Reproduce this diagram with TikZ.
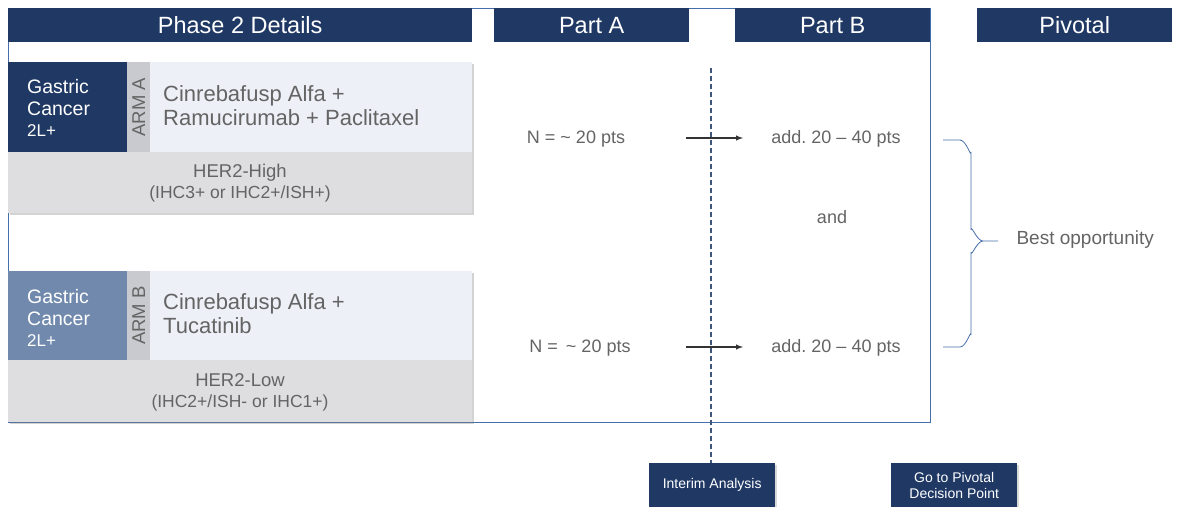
\documentclass[tikz,border=0pt]{standalone}
\usepackage{fontspec}
\setmainfont{Liberation Sans}
\usepackage{xcolor}
\usepackage{tikz}
\usetikzlibrary{arrows,shadows}
\frenchspacing

\definecolor{navy}{RGB}{31,56,100}
\definecolor{steel}{RGB}{112,137,173}
\definecolor{armgray}{RGB}{200,202,207}
\definecolor{lightbox}{RGB}{237,240,247}
\definecolor{subgray}{RGB}{222,222,225}
\definecolor{txtgray}{RGB}{100,100,100}
\definecolor{frameblue}{RGB}{70,110,170}

\begin{document}
\begin{tikzpicture}[x=1pt, y=-1pt,
                    hdr/.style={fill=navy, text=white, anchor=north west,
                    inner sep=0pt, minimum height=34pt,
                    font=\fontsize{23.5}{26}\selectfont},
                    cell/.style={anchor=north west, inner sep=0pt},
                    body/.style={text=txtgray, font=\fontsize{18}{21}\selectfont},
                    small/.style={text=txtgray, font=\fontsize{18.5}{21}\selectfont},
                    tag/.style={fill=navy, text=white, anchor=north west,
                    inner sep=0pt, minimum width=126pt, minimum height=44pt,
                    align=center, font=\fontsize{14}{16}\selectfont,
                    drop shadow={shadow xshift=2pt, shadow yshift=-2pt, opacity=0.3}},
                    boxshadow/.style={drop shadow={shadow xshift=2pt,
                    shadow yshift=-2pt, opacity=0.35}}]
    \useasboundingbox (0,0) rectangle (1177,506);
    % frame and headers
    \draw[frameblue, line width=0.9pt] (8,8) rectangle (930,422);
    \node[hdr, minimum width=464pt](hp2) at (8,8) {Phase 2 Details};
    \node[hdr, minimum width=195pt](hpa) at (494,8) {Part A};
    \node[hdr, minimum width=195pt](hpb) at (735,8) {Part B};
    \node[hdr, minimum width=195pt](hpv) at (977,8) {Pivotal};

    % arm A
    \node[cell, boxshadow, fill=subgray, minimum width=464pt, minimum height=151pt](ga) at (8,62) {};
    \node[cell, fill=lightbox, minimum width=322pt, minimum height=90pt](la) at (150,62) {};
    \node[cell, fill=navy, minimum width=119pt, minimum height=90pt](ca) at (8,62) {};
    \node[cell, fill=armgray, minimum width=23pt, minimum height=90pt](sa) at (127,62) {};
    \node[anchor=west, text=white, align=left, inner sep=0pt,
          font=\fontsize{19.5}{21.5}\selectfont](tca) at (27,108)
          {Gastric\\Cancer\\{\fontsize{17}{19}\selectfont 2L+}};
    \node[small, rotate=90](ta) at (sa.center) {ARM A};
    \node[anchor=west, align=left, inner sep=0pt, text=txtgray,
          font=\fontsize{22}{24}\selectfont](da) at (163,106)
          {Cinrebafusp Alfa +\\Ramucirumab + Paclitaxel};
    \node[small, align=center](ha) at (240,183)
          {HER2-High\\{\fontsize{17.5}{21}\selectfont(IHC3+ or IHC2+/ISH+)}};

    % arm B
    \node[cell, boxshadow, fill=subgray, minimum width=464pt, minimum height=151pt](gb) at (8,271) {};
    \node[cell, fill=lightbox, minimum width=322pt, minimum height=89pt](lb) at (150,271) {};
    \node[cell, fill=steel, minimum width=119pt, minimum height=89pt](cb) at (8,271) {};
    \node[cell, fill=armgray, minimum width=23pt, minimum height=89pt](sb) at (127,271) {};
    \node[anchor=west, text=white, align=left, inner sep=0pt,
          font=\fontsize{19.5}{21.5}\selectfont](tcb) at (27,318)
          {Gastric\\Cancer\\{\fontsize{17}{19}\selectfont 2L+}};
    \node[small, rotate=90](tb) at (sb.center) {ARM B};
    \node[anchor=west, align=left, inner sep=0pt, text=txtgray,
          font=\fontsize{22}{24}\selectfont](db) at (163,314)
          {Cinrebafusp Alfa +\\Tucatinib};
    \node[small, align=center](hb) at (240,392)
          {HER2-Low\\{\fontsize{17.5}{21}\selectfont(IHC2+/ISH- or IHC1+)}};

    % parts A and B
    \node[body](na) at (576,139) {N = \textasciitilde{} 20 pts};
    \node[body](ba) at (836,139) {add. 20 -- 40 pts};
    \node[body](nd) at (832,217) {and};
    \node[body](nb) at (580,348) {N = \,\textasciitilde{} 20 pts};
    \node[body](bb) at (836,348) {add. 20 -- 40 pts};

    \node[tag](ia) at (649,463) {Interim Analysis};
    \node[tag](gp) at (891,463) {Go to Pivotal\\Decision Point};

    \coordinate (dtop) at (711,68);
    \draw[navy!85, dash pattern=on 5pt off 3pt, line width=1.1pt] (dtop) -- (ia.north -| dtop);

    \coordinate (a1s) at (686,138);
    \coordinate (a1e) at (743,138);
    \coordinate (a2s) at (686,347);
    \coordinate (a2e) at (743,347);
    \draw[->, >=latex, black!80, line width=1.4pt] (a1s) -- (a1e);
    \draw[->, >=latex, black!80, line width=1.4pt] (a2s) -- (a2e);

    % brace
    \coordinate (br1) at (943,140);
    \coordinate (br2) at (943,347);
    \coordinate (brt) at (998,241);
    \draw[frameblue, line width=0.8pt] (br1) -- ++(17,0) to[out=0,in=-90] ++(11,12)
        -- (971,230) to[out=90,in=180] (983,241) -- (brt)
        (983,241) to[out=180,in=-90] (971,252)
        -- (971,335) to[out=90,in=0] ++(-11,12) -- (br2);
    \node[body, anchor=west, font=\fontsize{19}{21}\selectfont](bo) at (1013,240) {Best opportunity};
\end{tikzpicture}
\end{document}
